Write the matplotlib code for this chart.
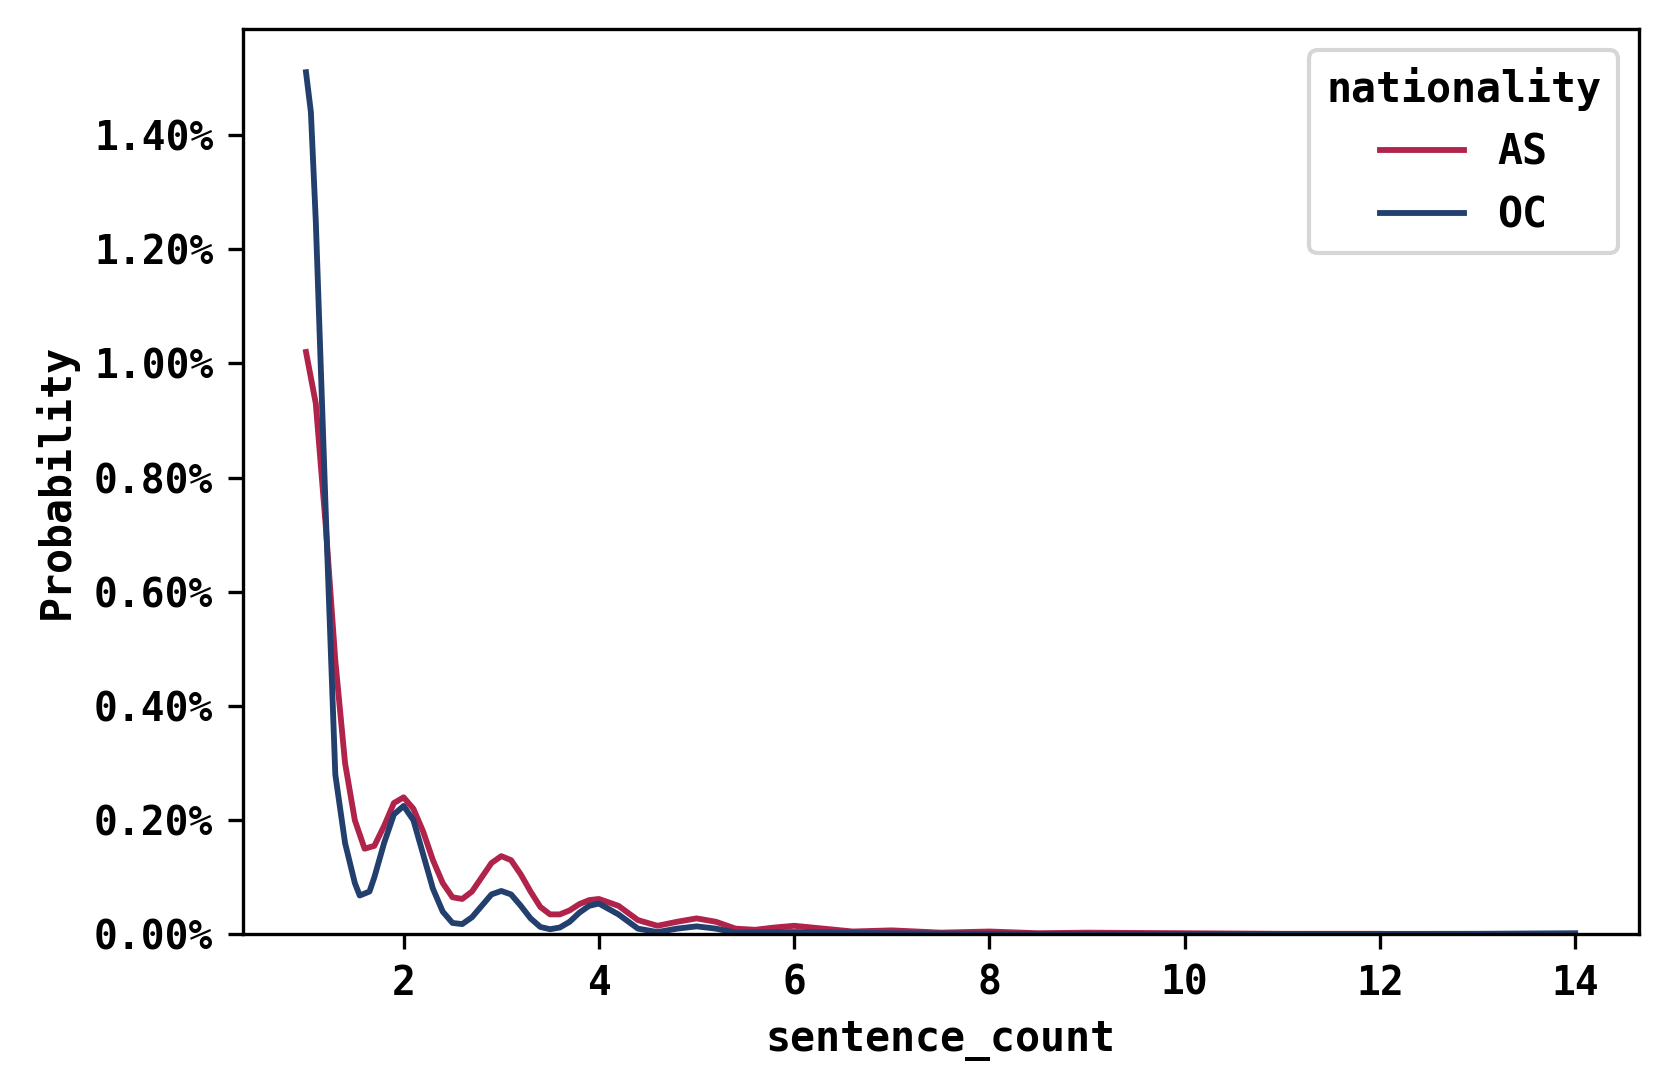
import matplotlib.pyplot as plt
from matplotlib.ticker import PercentFormatter

plt.rcParams['font.family'] = ['DejaVu Sans Mono']
plt.rcParams['font.weight'] = 'bold'
plt.rcParams['axes.labelweight'] = 'bold'

# values in percent
as_x = [1.0, 1.1, 1.2, 1.3, 1.4, 1.5, 1.6, 1.7, 1.8, 1.9, 2.0, 2.1, 2.2, 2.3, 2.4, 2.5, 2.6, 2.7, 2.8, 2.9,
        3.0, 3.1, 3.2, 3.3, 3.4, 3.5, 3.6, 3.7, 3.8, 3.9, 4.0, 4.2, 4.4, 4.6, 4.8, 5.0, 5.2, 5.4, 5.6, 5.8,
        6.0, 6.3, 6.6, 7.0, 7.5, 8.0, 8.5, 9.0, 10.0, 11.0, 12.0]
as_y = [1.02, 0.93, 0.72, 0.48, 0.30, 0.20, 0.15, 0.155, 0.19, 0.23, 0.24, 0.22, 0.18, 0.13, 0.09, 0.065, 0.062, 0.075, 0.10, 0.125,
        0.137, 0.13, 0.105, 0.075, 0.048, 0.035, 0.035, 0.042, 0.053, 0.06, 0.062, 0.05, 0.025, 0.015, 0.022, 0.028, 0.022, 0.01, 0.008, 0.012,
        0.015, 0.01, 0.005, 0.007, 0.003, 0.005, 0.002, 0.003, 0.002, 0.001, 0.001]

oc_x = [1.0, 1.05, 1.1, 1.2, 1.3, 1.4, 1.5, 1.55, 1.65, 1.7, 1.8, 1.9, 2.0, 2.1, 2.2, 2.3, 2.4, 2.5, 2.6, 2.7, 2.8, 2.9,
        3.0, 3.1, 3.2, 3.3, 3.4, 3.5, 3.6, 3.7, 3.8, 3.9, 4.0, 4.2, 4.4, 4.6, 4.8, 5.0, 5.2, 5.4, 6.0, 7.0, 8.0, 10.0,
        12.0, 13.0, 14.0]
oc_y = [1.51, 1.44, 1.25, 0.75, 0.28, 0.16, 0.09, 0.068, 0.075, 0.10, 0.16, 0.21, 0.225, 0.20, 0.14, 0.08, 0.04, 0.02, 0.018, 0.03, 0.05, 0.07,
        0.076, 0.07, 0.05, 0.028, 0.013, 0.009, 0.012, 0.022, 0.038, 0.05, 0.054, 0.035, 0.01, 0.004, 0.01, 0.014, 0.01, 0.003, 0.004, 0.002, 0.001, 0.0005,
        0.0008, 0.001, 0.002]

fig, ax = plt.subplots(figsize=(1667 / 300, 1089 / 300), dpi=300)
fig.subplots_adjust(left=0.1455, right=0.983, top=0.973, bottom=0.142)

ax.plot(as_x, as_y, color='#b0234a', lw=1.4, label='AS')
ax.plot(oc_x, oc_y, color='#223f6e', lw=1.4, label='OC')

ax.set_ylim(0, 1.585)
ax.set_xlim(0.35, 14.65)
ax.yaxis.set_major_formatter(PercentFormatter(100, decimals=2))
ax.set_xticks([2, 4, 6, 8, 10, 12, 14])
ax.set_yticks([0, 0.2, 0.4, 0.6, 0.8, 1.0, 1.2, 1.4])
ax.tick_params(labelsize=9.5)
ax.set_xlabel('sentence_count', fontsize=10)
ax.set_ylabel('Probability', fontsize=10)
leg = ax.legend(title='nationality', fontsize=10, title_fontsize=10, loc='upper right')
leg.get_title().set_fontweight('bold')

fig.savefig('out.png', dpi=300)
